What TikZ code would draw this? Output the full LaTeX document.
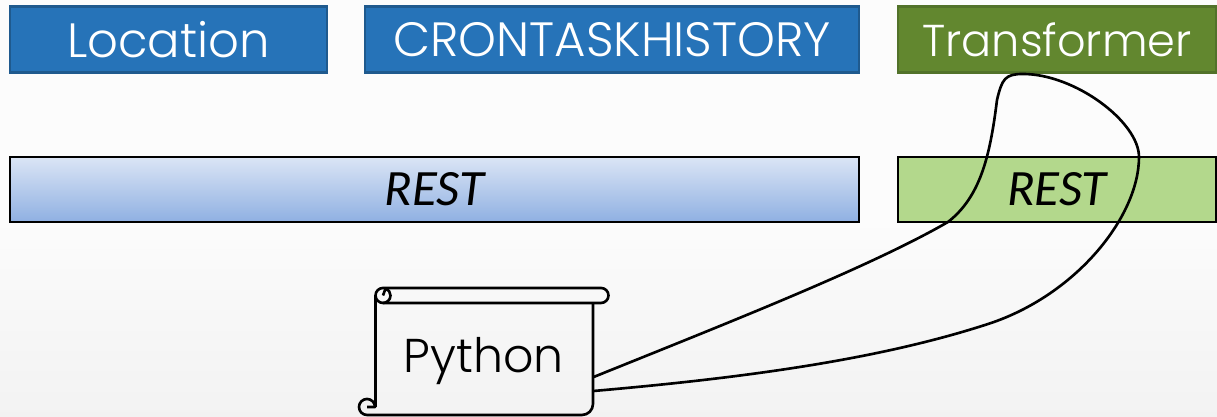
\documentclass[tikz,border=0pt]{standalone}
\usepackage{fontspec}
\setmainfont{Poppins Light}
\newfontfamily\restfont{Carlito}
\usepackage{tikz}
\usetikzlibrary{calc, positioning}

\definecolor{tableblue}{HTML}{2673B8}
\definecolor{tableedge}{HTML}{1F5A8E}
\definecolor{transgreen}{HTML}{62872F}
\definecolor{transedge}{HTML}{52722A}
\definecolor{restgreen}{HTML}{B3D88C}
\definecolor{resttop}{HTML}{DBE5F5}
\definecolor{restbottom}{HTML}{8FB0E2}

\tikzset{
    tablebox/.style={draw=tableedge, fill=tableblue, line width=0.7pt, text=white, minimum height=0.66cm, inner sep=0pt, font=\fontsize{13.7}{16}\selectfont},
    transbox/.style={tablebox, draw=transedge, fill=transgreen, font=\fontsize{12.7}{16}\selectfont},
    restbox/.style={draw=black, line width=0.75pt, minimum height=0.65cm, inner sep=0pt, font=\restfont\itshape\fontsize{14.5}{16}\selectfont},
    scrollline/.style={draw=black, line width=0.75pt, line join=round},
    link/.style={draw=black, line width=0.75pt}
}

\begin{document}
\begin{tikzpicture}
    \useasboundingbox (0,0) rectangle (12.17,4.17);
    \shade[top color=white!99!black, bottom color=white!95!black, middle color=white!99!black] (0,0) rectangle (12.17,4.17);

    % top row
    \node[tablebox, minimum width=3.17cm] (location) at (1.685,3.775) {Location};
    \node[tablebox, minimum width=4.94cm] (cronhistory) at (6.12,3.775) {CRONTASKHISTORY};
    \node[transbox, minimum width=3.18cm] (transformer) at (10.57,3.775) {Transformer};

    % rest layer
    \node[restbox, minimum width=8.49cm, top color=resttop, bottom color=restbottom] (restleft) at (4.345,2.275) {REST};
    \node[restbox, minimum width=3.18cm, fill=restgreen] (restright) at (10.57,2.275) {REST};

    % scroll
    \node[minimum width=2.18cm, minimum height=1.0cm, inner sep=0pt, font=\fontsize{13.5}{16}\selectfont] (python) at (4.84,0.56) {Python};
    \draw[scrollline] (3.83,1.29) -- (6.01,1.29) arc (90:-90:0.075) -- (3.83,1.14) arc (270:90:0.075);
    \draw[scrollline] (3.83,1.14) arc (-90:70:0.075) -- (3.83,1.215);
    \draw[scrollline] (3.755,1.215) -- (3.755,0.10);
    \draw[scrollline] (5.93,1.14) -- (5.93,0.13) arc (0:-90:0.11) -- (3.67,0.02) arc (270:0:0.08) -- (3.67,0.10);

    % loop through the transformer rest
    \coordinate (pyouta) at ($(python.east)+(0,-0.16)$);
    \coordinate (pyoutb) at ($(python.east)+(0,-0.30)$);
    \draw[link] (pyouta) .. controls (7.3,0.95) and (8.7,1.5) .. (9.48,1.95)
        .. controls (9.80,2.2) and (9.90,2.6) .. (9.97,3.17)
        .. controls (10.02,3.38) and (10.05,3.43) .. (10.23,3.43)
        .. controls (10.75,3.43) and (11.39,2.95) .. (11.39,2.6)
        .. controls (11.39,2.0) and (10.75,1.2) .. (9.85,0.92)
        .. controls (8.7,0.55) and (7.3,0.38) .. (pyoutb);
\end{tikzpicture}
\end{document}
